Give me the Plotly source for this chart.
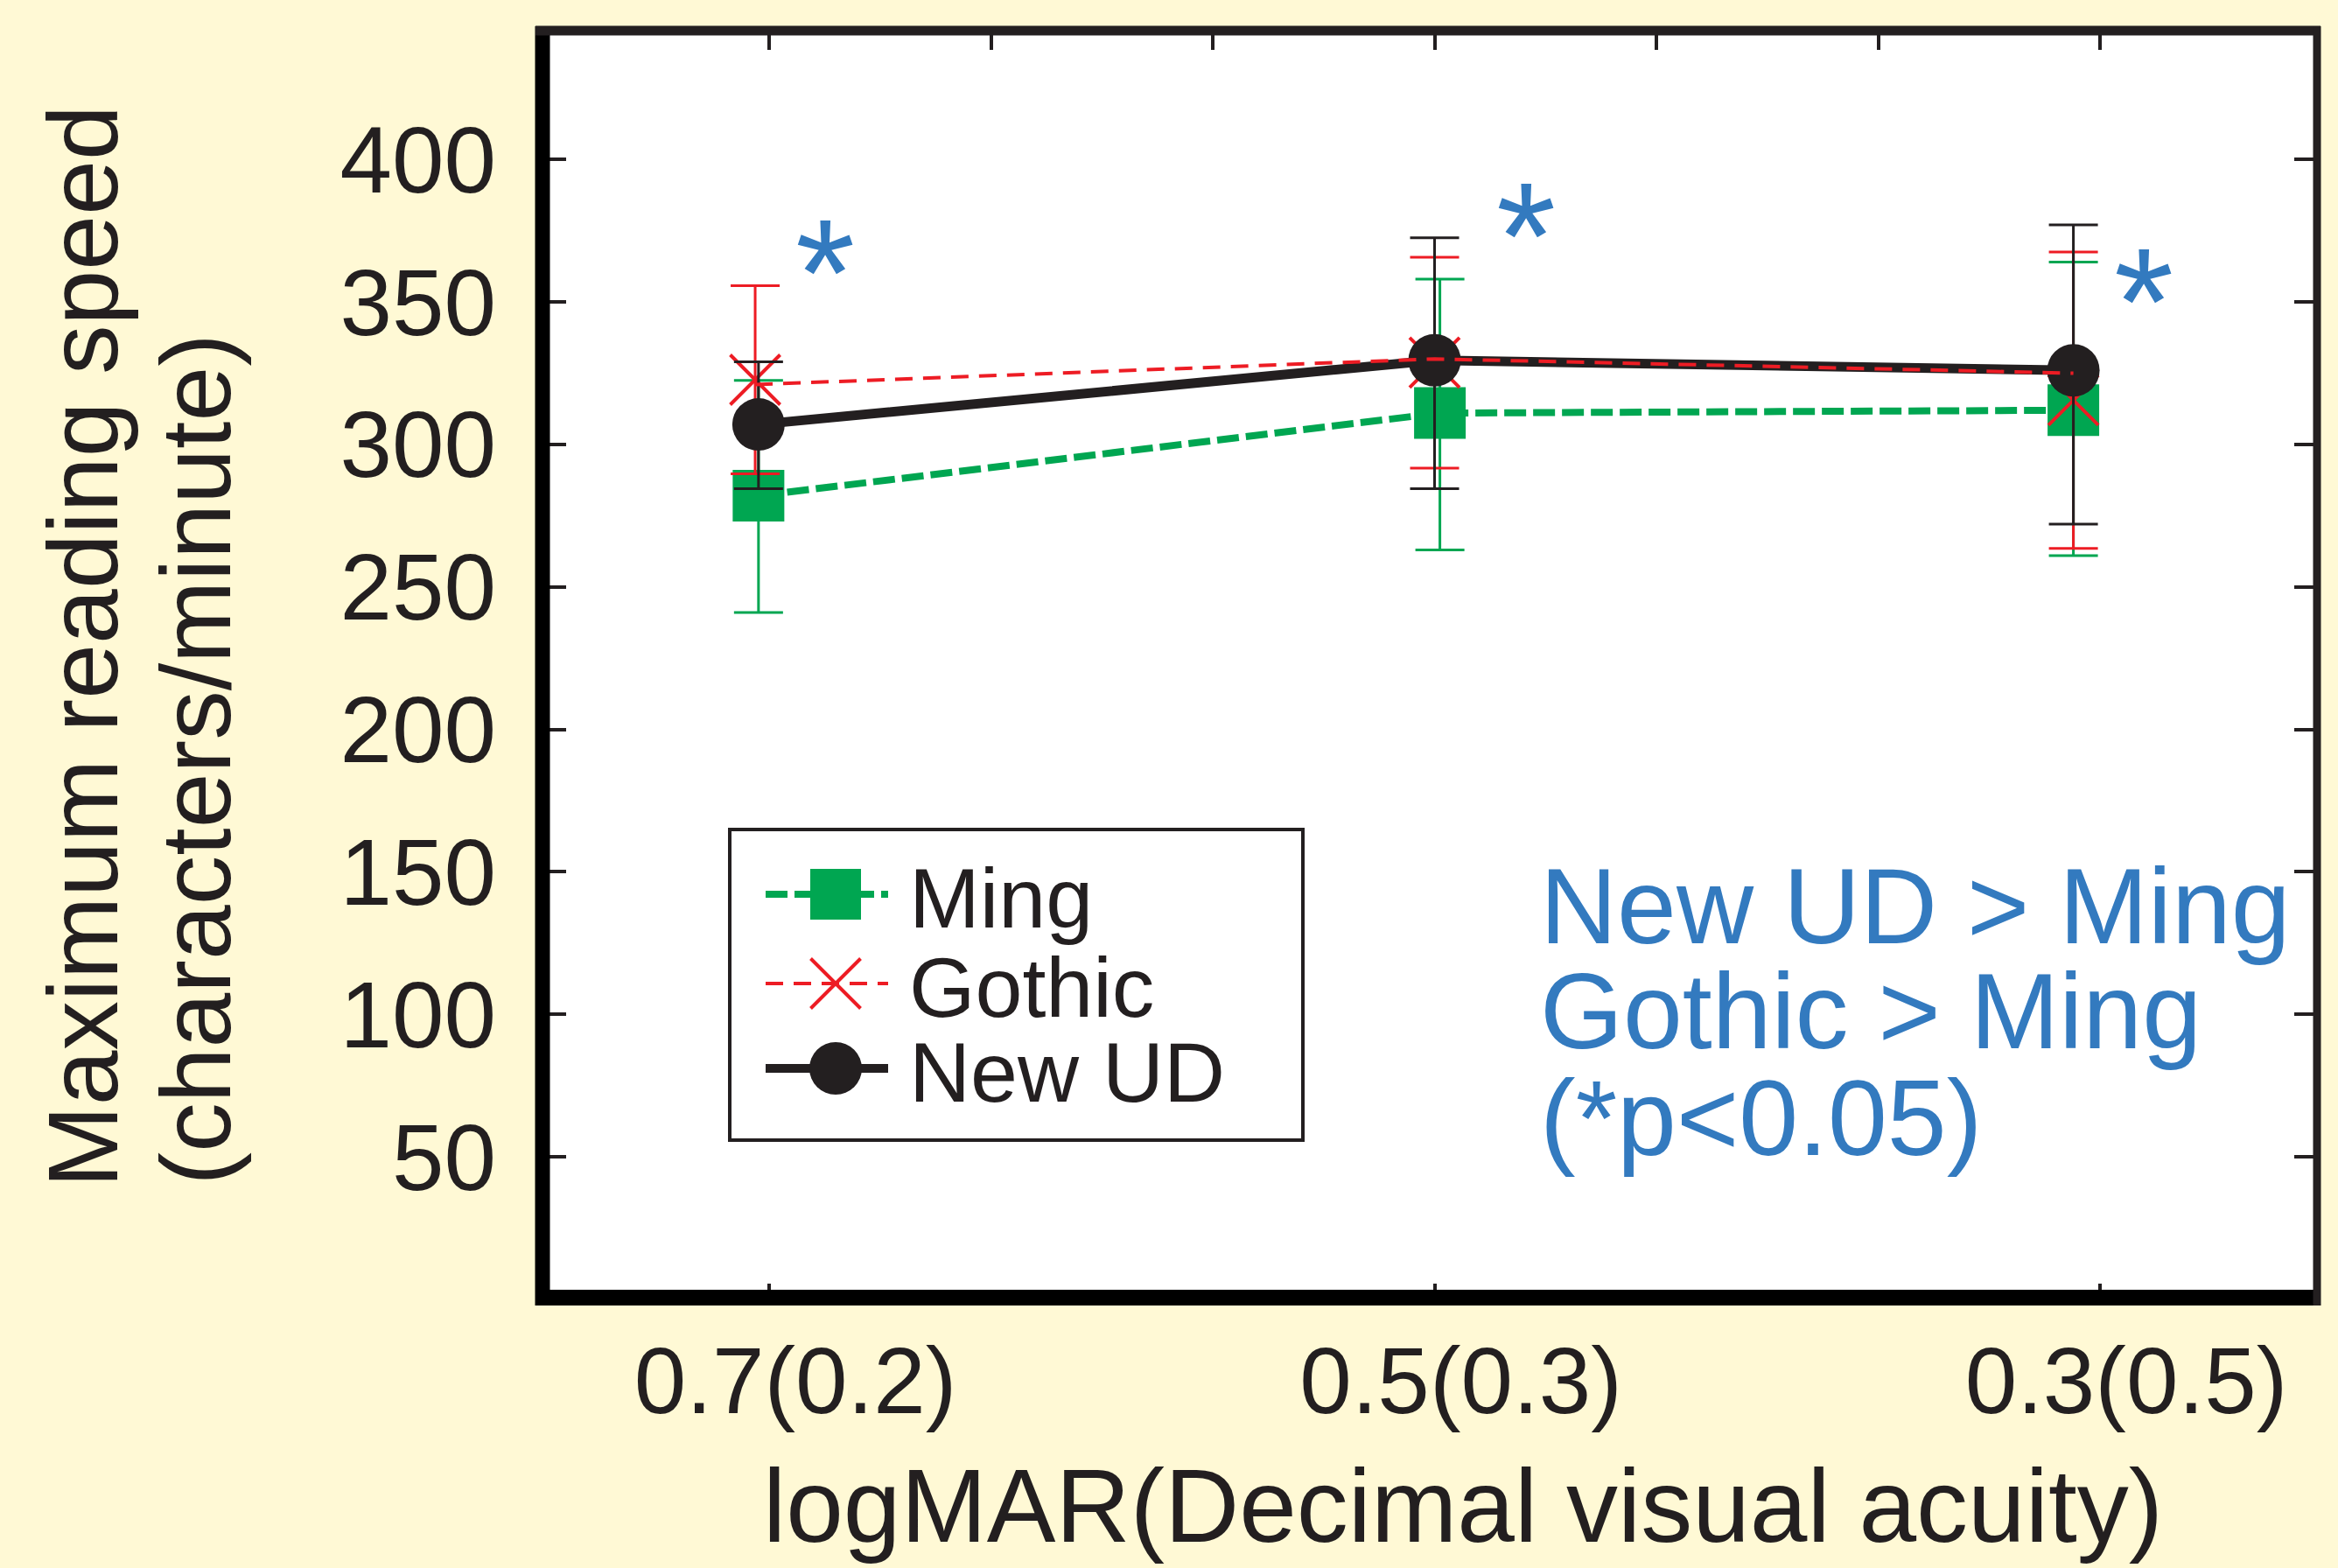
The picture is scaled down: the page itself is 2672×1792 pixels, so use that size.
import plotly.graph_objects as go

# ---------------- data ----------------
categories = ["0.7(0.2)", "0.5(0.3)", "0.3(0.5)"]
cat_pos = [1, 2, 3]
y_ticks = [50, 100, 150, 200, 250, 300, 350, 400]
top_ticks = [1, 4 / 3, 5 / 3, 2, 7 / 3, 8 / 3, 3]

# point positions (slightly off the category ticks)
x_ming = [0.984, 2.008, 2.960]
x_gothic = [0.979, 2.000, 2.960]
x_newud = [0.984, 2.000, 2.960]

ming = [282, 311, 312]
ming_err_plus = [40.5, 47, 52]
ming_err_minus = [41, 48, 51]

gothic = [322.7, 328.7, 315.5]
gothic_line = [321, 330, 325]
gothic_err = [33, 37, 52]

newud = [307, 329.5, 326]
newud_err_plus = [22, 43, 51]
newud_err_minus = [22.5, 45, 54]

# significance asterisks
star_x = [1.084, 2.137, 3.066]
star_y = [368, 381, 358]

note_lines = ["New UD > Ming", "Gothic > Ming", "(*p<0.05)"]
legend_names = ["Ming", "Gothic", "New UD"]

# ---------------- style ----------------
GREEN = "#00A651"
RED = "#ED1C24"
BLACK = "#231F20"
BLUE = "#337ABF"
BG = "#FFF9D5"
FONT = "Liberation Sans, Arial, sans-serif"

W, H = 2672, 1792
L, R, T, B = 620, 24, 35, 307
PW, PH = W - L - R, H - T - B


def px_x(px):
    return (px - L) / PW


def px_y(py):
    return (H - B - py) / PH


fig = go.Figure()

# Ming
fig.add_trace(go.Scatter(
    x=x_ming, y=ming, mode="lines+markers", name="Ming",
    line=dict(color=GREEN, width=8, dash="25px,8px"),
    marker=dict(symbol="square", size=59, color=GREEN, opacity=1, line=dict(width=0)),
    error_y=dict(type="data", array=ming_err_plus, arrayminus=ming_err_minus,
                 color=GREEN, thickness=3, width=28),
    showlegend=False, hoverinfo="skip"))

# Gothic markers + error bars
fig.add_trace(go.Scatter(
    x=x_gothic, y=gothic, mode="markers", name="Gothic",
    marker=dict(symbol="x-thin", size=57, color=RED, opacity=1,
                line=dict(width=4, color=RED)),
    error_y=dict(type="data", array=gothic_err, color=RED, thickness=3, width=28),
    showlegend=False, hoverinfo="skip"))

# New UD
fig.add_trace(go.Scatter(
    x=x_newud, y=newud, mode="lines+markers", name="New UD",
    line=dict(color=BLACK, width=11),
    marker=dict(symbol="circle", size=60, color=BLACK, opacity=1, line=dict(width=0)),
    error_y=dict(type="data", array=newud_err_plus, arrayminus=newud_err_minus,
                 color=BLACK, thickness=3, width=28),
    showlegend=False, hoverinfo="skip"))

# Gothic connecting line (drawn on top)
fig.add_trace(go.Scatter(
    x=x_gothic, y=gothic_line, mode="lines",
    line=dict(color=RED, width=4, dash="20px,12px"),
    showlegend=False, hoverinfo="skip"))

# dummy trace for mirrored tick axes
fig.add_trace(go.Scatter(x=[None], y=[None], xaxis="x2", yaxis="y2",
                         showlegend=False, hoverinfo="skip"))

# ---------------- custom legend (pixel-like coordinates on x3/y3) ----------------
LX0, LX1, LY0, LY1 = 834, 1489, 948, 1303
leg_rows = [1022, 1124, 1221]
leg_styles = [
    dict(line=dict(color=GREEN, width=8, dash="25px,8px"),
         marker=dict(symbol="square", size=[0, 58, 0], color=GREEN, opacity=1,
                     line=dict(width=0))),
    dict(line=dict(color=RED, width=4, dash="20px,12px"),
         marker=dict(symbol="x-thin", size=[0, 57, 0], color=RED, opacity=1,
                     line=dict(width=4, color=RED))),
    dict(line=dict(color=BLACK, width=10),
         marker=dict(symbol="circle", size=[0, 60, 0], color=BLACK, opacity=1,
                     line=dict(width=0))),
]
for row, st in zip(leg_rows, leg_styles):
    fig.add_trace(go.Scatter(x=[875, 955, 1015], y=[row] * 3, mode="lines+markers",
                             xaxis="x3", yaxis="y3", showlegend=False, hoverinfo="skip",
                             cliponaxis=False, **st))

annotations = []
for name, row in zip(legend_names, leg_rows):
    annotations.append(dict(x=1037, y=row + 4, xref="x3", yref="y3", text=name,
                            showarrow=False, xanchor="left", yanchor="middle",
                            font=dict(size=97, color=BLACK, family=FONT)))

# blue note
for line, base in zip(note_lines, [1078, 1198, 1320]):
    annotations.append(dict(x=px_x(1758), y=px_y(base - 42), xref="paper", yref="paper",
                            text=line, showarrow=False, xanchor="left", yanchor="middle",
                            font=dict(size=122, color=BLUE, family=FONT)))

# asterisks
for sx, sy in zip(star_x, star_y):
    annotations.append(dict(x=sx, y=sy, xref="x", yref="y", text="*", showarrow=False,
                            xanchor="center", yanchor="middle", yshift=-25,
                            font=dict(size=175, color=BLUE, family=FONT)))

# axis titles
annotations.append(dict(x=px_x(94), y=px_y(1360), xref="paper", yref="paper",
                        text="Maximum reading speed", textangle=-90, showarrow=False,
                        xanchor="center", yanchor="bottom",
                        font=dict(size=113, color=BLACK, family=FONT)))
annotations.append(dict(x=px_x(223), y=px_y(1357), xref="paper", yref="paper",
                        text="(characters/minute)", textangle=-90, showarrow=False,
                        xanchor="center", yanchor="bottom",
                        font=dict(size=113, color=BLACK, family=FONT)))
annotations.append(dict(x=px_x(1672), y=px_y(1721), xref="paper", yref="paper",
                        text="logMAR(Decimal visual acuity)", showarrow=False,
                        xanchor="center", yanchor="middle",
                        font=dict(size=118, color=BLACK, family=FONT)))

# frame (thick left/bottom, thinner top/right) and legend box
shapes = [
    dict(type="line", xref="paper", yref="paper", x0=0, x1=0,
         y0=px_y(1492), y1=px_y(30), line=dict(color="#000000", width=17), layer="above"),
    dict(type="line", xref="paper", yref="paper", x0=px_x(612), x1=px_x(2652),
         y0=px_y(1483), y1=px_y(1483), line=dict(color="#000000", width=18), layer="above"),
    dict(type="line", xref="paper", yref="paper", x0=px_x(612), x1=px_x(2652),
         y0=1, y1=1, line=dict(color=BLACK, width=11), layer="above"),
    dict(type="line", xref="paper", yref="paper", x0=1, x1=1,
         y0=px_y(1492), y1=px_y(30), line=dict(color=BLACK, width=9), layer="above"),
    dict(type="rect", xref="paper", yref="paper", x0=px_x(LX0), x1=px_x(LX1),
         y0=px_y(LY1), y1=px_y(LY0), line=dict(color=BLACK, width=4), layer="above"),
]

x_range = [0.6594, 3.3261]
y_range = [0, 445.2]

fig.update_layout(
    width=W, height=H, autosize=False,
    margin=dict(l=L, r=R, t=T, b=B, pad=0),
    paper_bgcolor=BG, plot_bgcolor="white",
    font=dict(family=FONT, color=BLACK),
    showlegend=False,
    xaxis=dict(range=x_range, tickmode="array", tickvals=cat_pos, ticktext=categories,
               ticks="inside", ticklen=18, tickwidth=4, tickcolor=BLACK,
               showgrid=False, zeroline=False, showline=False,
               tickfont=dict(size=107, color=BLACK, family=FONT),
               ticklabelstandoff=22, ticklabelshift=30, fixedrange=True),
    yaxis=dict(range=y_range, tickmode="array", tickvals=y_ticks,
               ticks="inside", ticklen=27, tickwidth=4, tickcolor=BLACK,
               showgrid=False, zeroline=False, showline=False,
               tickfont=dict(size=107, color=BLACK, family=FONT),
               ticklabelstandoff=52, fixedrange=True),
    xaxis2=dict(range=x_range, overlaying="x", side="top", anchor="y",
                tickmode="array", tickvals=top_ticks, ticks="inside", ticklen=22,
                tickwidth=4, tickcolor=BLACK, showticklabels=False,
                showgrid=False, zeroline=False, showline=False),
    yaxis2=dict(range=y_range, overlaying="y", side="right", anchor="x",
                tickmode="array", tickvals=y_ticks, ticks="inside", ticklen=26,
                tickwidth=4, tickcolor=BLACK, showticklabels=False,
                showgrid=False, zeroline=False, showline=False),
    xaxis3=dict(domain=[px_x(LX0), px_x(LX1)], range=[LX0, LX1], anchor="y3",
                visible=False, fixedrange=True),
    yaxis3=dict(domain=[px_y(LY1), px_y(LY0)], range=[LY1, LY0], anchor="x3",
                visible=False, fixedrange=True),
    annotations=annotations,
    shapes=shapes,
)

fig.write_html("out.html")
